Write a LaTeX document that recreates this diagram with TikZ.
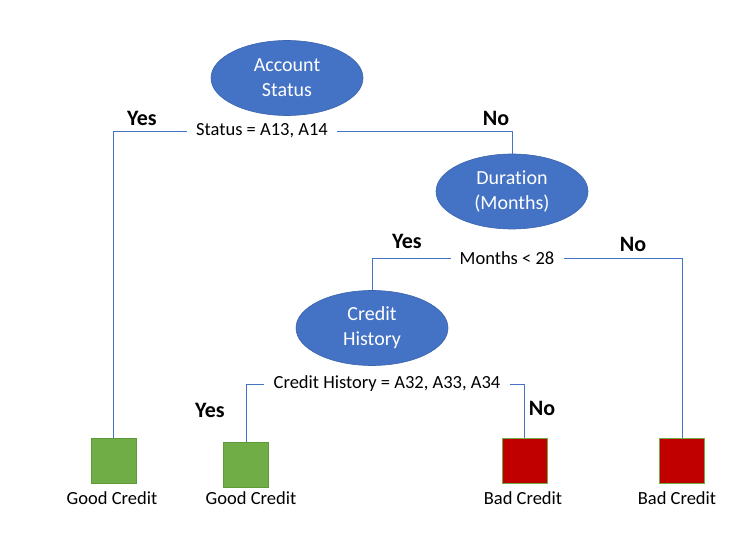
\documentclass[tikz,border=0pt]{standalone}
\usepackage{fontspec}
\setmainfont{Carlito}[Ligatures=NoCommon]
\usetikzlibrary{shapes.geometric}
\definecolor{eblue}{HTML}{4472C4}
\definecolor{eborder}{HTML}{3A64AE}
\definecolor{ggreen}{HTML}{70AD47}
\definecolor{gborder}{HTML}{5E9A3A}
\definecolor{bred}{HTML}{C00000}
\tikzset{
  decision/.style={ellipse, fill=eblue, draw=eborder, line width=0.6pt, minimum width=152pt, minimum height=75pt, inner sep=0pt, text=white, align=center, font=\fontsize{20}{25}\selectfont},
  cond/.style={inner xsep=9pt, inner ysep=0pt, font=\fontsize{18.5}{22}\selectfont},
  yn/.style={font=\fontsize{22}{26}\selectfont\bfseries},
  leafgood/.style={rectangle, fill=ggreen, draw=gborder, line width=0.6pt, minimum width=45pt, minimum height=45pt, inner sep=0pt},
  leafbad/.style={rectangle, fill=bred, draw=ggreen, line width=0.8pt, minimum width=45pt, minimum height=45pt, inner sep=0pt},
  leaflabel/.style={font=\fontsize{18.5}{22}\selectfont, inner sep=0pt},
  conn/.style={draw=eblue, line width=0.9pt}
}
\begin{document}
\begin{tikzpicture}[x=1pt,y=-1pt]
\useasboundingbox[fill=white] (0,0) rectangle (740,537);
% decision nodes
\node[decision] (acc) at (287,78) {Account\\Status};
\node[decision] (dur) at (512,191.5) {Duration\\(Months)};
\node[decision] (hist) at (372,328) {Credit\\History};
% conditions
\node[cond] (c1) at (262,131) {Status = A13, A14};
\node[cond] (c2) at (507,258) {Months < 28};
\node[cond] (c3) at (387,384) {Credit History = A32, A33, A34};
% leaves
\node[leafgood] (g1) at (113.5,460.5) {};
\node[leafgood] (g2) at (246,464.5) {};
\node[leafbad] (b1) at (524.5,461) {};
\node[leafbad] (b2) at (682,461) {};
\node[leaflabel] (lg1) at (112,498) {Good Credit};
\node[leaflabel] (lg2) at (251,498) {Good Credit};
\node[leaflabel] (lb1) at (523,498) {Bad Credit};
\node[leaflabel] (lb2) at (677,498) {Bad Credit};
% yes / no
\node[yn] (y1) at (142,118) {Yes};
\node[yn] (n1) at (496,118) {No};
\node[yn] (y2) at (407,241) {Yes};
\node[yn] (n2) at (633,244) {No};
\node[yn] (y3) at (210,410) {Yes};
\node[yn] (n3) at (542,408) {No};
% connectors
\draw[conn] (c1.west) -| (g1.north);
\draw[conn] (c1.east) -| (dur.north);
\draw[conn] (c2.west) -| (hist.north);
\draw[conn] (c2.east) -| (b2.north);
\draw[conn] (c3.west) -| (g2.north);
\draw[conn] (c3.east) -| (b1.north);
\end{tikzpicture}
\end{document}
